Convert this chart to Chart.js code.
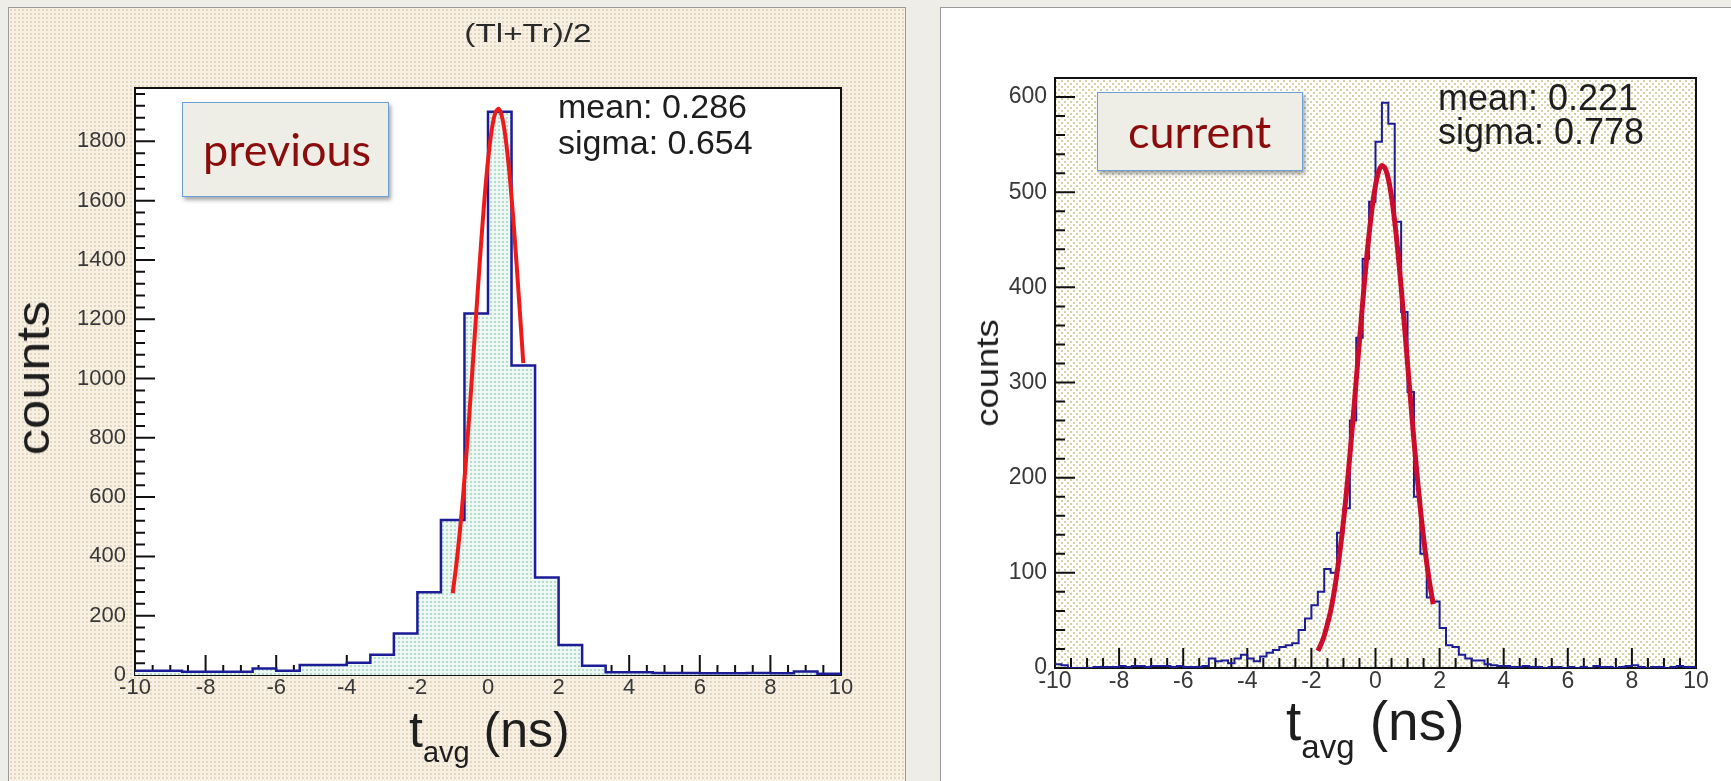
<!DOCTYPE html>
<html>
<head>
<meta charset="utf-8">
<script src="https://cdn.jsdelivr.net/npm/chart.js@4.4.0/dist/chart.umd.min.js"></script>
<style>
  html, body { margin: 0; padding: 0; }
  body { width: 1731px; height: 781px; position: relative; overflow: hidden; background: #efede7; font-family: "Liberation Sans", Arial, sans-serif; }
  .panel { position: absolute; box-sizing: border-box; }
  #panelL { left: 8px; top: 7px; width: 898px; height: 800px; border: 1px solid #9a9a9a;
            background-color: #f7f0e5;
            background-image: radial-gradient(circle, #e7d5bc 0.9px, transparent 1.4px);
            background-size: 4px 4px; }
  #panelR { left: 940px; top: 7px; width: 800px; height: 800px; border: 1px solid #9a9a9a; background: #fff; }
  canvas { position: absolute; }
  .txt { position: absolute; white-space: nowrap; line-height: 1; color: #1e1e1e; }
  .box { position: absolute; box-sizing: border-box; background: #efeee6; border: 1.5px solid #6aa0d8;
         box-shadow: 2px 3px 4px rgba(0,0,0,.35); }
  .tag { position: absolute; white-space: nowrap; line-height: 1; font-family: Lato, "Open Sans", sans-serif;
         font-size: 45px; color: #8a0c0c; }
</style>
</head>
<body>
<div class="panel" id="panelL"></div>
<div class="panel" id="panelR"></div>
<canvas id="chartL" width="895" height="773" style="left:9px;top:8px;width:895px;height:773px"></canvas>
<canvas id="chartR" width="790" height="773" style="left:941px;top:8px;width:790px;height:773px"></canvas>

<!-- panel izquierdo -->
<div class="txt" style="left:528px;top:20px;font-size:26px;color:#2a2a2a;transform:translateX(-50%) scaleX(1.28)">(Tl+Tr)/2</div>
<div class="txt" style="left:558px;top:89px;font-size:34px">mean: 0.286</div>
<div class="txt" style="left:558px;top:125px;font-size:34px">sigma: 0.654</div>
<div class="box" style="left:182px;top:102px;width:207px;height:95px"></div>
<div class="tag" style="left:203px;top:127px">previous</div>
<div class="txt" style="left:33px;top:378px;font-size:46px;transform:translate(-50%,-50%) rotate(-90deg) scaleX(1.14)">counts</div>
<div class="txt" style="left:409px;top:705px;font-size:50px">t<span style="font-size:29px;position:relative;top:15px">avg</span> (ns)</div>

<!-- panel derecho -->
<div class="txt" style="left:1438px;top:80px;font-size:36px">mean: 0.221</div>
<div class="txt" style="left:1438px;top:114px;font-size:36px">sigma: 0.778</div>
<div class="box" style="left:1097px;top:92px;width:206px;height:79px"></div>
<div class="tag" style="left:1128px;top:109px">current</div>
<div class="txt" style="left:987px;top:373px;font-size:32px;transform:translate(-50%,-50%) rotate(-90deg) scaleX(1.14)">counts</div>
<div class="txt" style="left:1286px;top:694px;font-size:55px">t<span style="font-size:33px;position:relative;top:18px">avg</span> (ns)</div>

<script>
// ---- datos: histograma "previous" (30 bins entre -10 y 10) ----
const rangoL  = [-10, 10];
const cuentasL = [14, 14, 11, 11, 11, 22, 14, 34, 34, 41,
                  68, 140, 279, 523, 1219, 1900, 1044, 329, 101, 31,
                  9, 9, 7, 7, 6, 6, 7, 6, 12, 4];
const ajusteXL = [-1.0, -0.9, -0.8, -0.7, -0.6, -0.5, -0.4, -0.3, -0.2, -0.1, 0.0,
                  0.1, 0.2, 0.3, 0.4, 0.5, 0.6, 0.7, 0.8, 0.9, 1.0];
const ajusteYL = [276, 369, 481, 613, 763, 928, 1102, 1278, 1449, 1605, 1736,
                  1834, 1894, 1910, 1881, 1810, 1702, 1563, 1402, 1229, 1052];

// ---- datos: histograma "current" (100 bins entre -10 y 10) ----
const rangoR  = [-10, 10];
const cuentasR = [4, 3, 0, 0, 0, 0, 1, 1, 1, 1,
                  2, 1, 2, 2, 1, 2, 2, 2, 1, 2,
                  1, 1, 1, 2, 10, 7, 8, 5, 10, 14,
                  10, 7, 12, 16, 19, 22, 24, 26, 40, 52,
                  66, 80, 104, 100, 142, 168, 260, 347, 430, 490,
                  553, 594, 572, 469, 374, 290, 180, 120, 74, 70,
                  42, 24, 22, 14, 10, 8, 8, 4, 3, 2,
                  2, 1, 1, 2, 1, 1, 0, 1, 1, 0,
                  1, 0, 1, 0, 2, 1, 1, 0, 1, 2,
                  3, 1, 0, 1, 1, 0, 1, 2, 1, 1];
const ajusteXR = [-1.8, -1.7, -1.6, -1.5, -1.4, -1.3, -1.2, -1.1, -1.0, -0.9, -0.8, -0.7, -0.6,
                  -0.5, -0.4, -0.3, -0.2, -0.1, 0.0, 0.1, 0.2, 0.3, 0.4, 0.5, 0.6, 0.7,
                  0.8, 0.9, 1.0, 1.1, 1.2, 1.3, 1.4, 1.5, 1.6, 1.7, 1.8];
const ajusteYR = [18, 25, 34, 46, 60, 78, 100, 125, 154, 187, 223, 262, 303,
                  344, 384, 422, 456, 485, 507, 522, 528, 525, 514, 495, 469, 437,
                  400, 361, 320, 279, 239, 202, 167, 137, 110, 87, 67];

// ---- ejes: etiquetas y marcas ----
const etiquetasX  = [-10, -8, -6, -4, -2, 0, 2, 4, 6, 8, 10];
const etiquetasYL = [0, 200, 400, 600, 800, 1000, 1200, 1400, 1600, 1800];
const etiquetasYR = [0, 100, 200, 300, 400, 500, 600];
const ejeX  = { min: -10, max: 10, major: 2, minor: 0.5 };
const ejeYL = { max: 1980, major: 200, minor: 40 };
const ejeYR = { max: 620, major: 100, minor: 20 };

function puntosHist(rango, cuentas) {
  const w = (rango[1] - rango[0]) / cuentas.length;
  const pts = cuentas.map((c, i) => ({ x: rango[0] + i * w, y: c }));
  pts.push({ x: rango[1], y: cuentas[cuentas.length - 1] });
  return pts;
}

function patronPuntos(size, bg, color, dots, r) {
  const c = document.createElement('canvas');
  c.width = size; c.height = size;
  const g = c.getContext('2d');
  if (bg) { g.fillStyle = bg; g.fillRect(0, 0, size, size); }
  g.fillStyle = color;
  dots.forEach(([dx, dy]) => g.fillRect(dx, dy, r, r));
  return g.createPattern(c, 'repeat');
}

// marco y ticks hacia adentro, estilo ROOT
const marcoRoot = {
  id: 'marcoRoot',
  beforeDatasetsDraw(chart, args, opts) {
    const { ctx, chartArea: a, scales: { x, y } } = chart;
    ctx.save();
    if (opts.fondo) {
      ctx.fillStyle = opts.fondo;
      ctx.fillRect(a.left, a.top, a.right - a.left, a.bottom - a.top);
    }
    ctx.strokeStyle = '#111';
    ctx.lineWidth = 2;
    ctx.strokeRect(a.left, a.top, a.right - a.left, a.bottom - a.top);
    ctx.beginPath();
    const nx = Math.round((x.max - x.min) / opts.xMinor);
    for (let i = 0; i <= nx; i++) {
      const v = x.min + i * opts.xMinor;
      const px = x.getPixelForValue(v);
      const mayor = Math.abs(v / opts.xMajor - Math.round(v / opts.xMajor)) < 1e-6;
      ctx.moveTo(px, a.bottom);
      ctx.lineTo(px, a.bottom - (mayor ? 20 : 10));
    }
    const ny = Math.floor(y.max / opts.yMinor);
    for (let i = 0; i <= ny; i++) {
      const v = i * opts.yMinor;
      const py = y.getPixelForValue(v);
      const mayor = v % opts.yMajor === 0;
      ctx.moveTo(a.left, py);
      ctx.lineTo(a.left + (mayor ? 20 : 10), py);
    }
    ctx.stroke();
    ctx.restore();
  }
};

function crearGrafica(id, cfg) {
  return new Chart(document.getElementById(id), {
    type: 'scatter',
    data: {
      datasets: [
        {
          // curva del ajuste, encima del histograma
          data: cfg.ajusteX.map((x, i) => ({ x, y: cfg.ajusteY[i] })),
          order: 0,
          showLine: true, tension: 0.3,
          borderColor: cfg.rojo, borderWidth: cfg.anchoAjuste,
          fill: false, pointRadius: 0
        },
        {
          data: puntosHist(cfg.rango, cfg.cuentas),
          order: 1,
          showLine: true, stepped: true,
          borderColor: '#1c1c96', borderWidth: cfg.anchoHist,
          backgroundColor: cfg.relleno || 'transparent',
          fill: cfg.relleno ? 'origin' : false,
          pointRadius: 0
        }
      ]
    },
    options: {
      responsive: false, animation: false, devicePixelRatio: 1,
      layout: { padding: cfg.padding },
      plugins: {
        legend: { display: false }, tooltip: { enabled: false },
        marcoRoot: { fondo: cfg.fondo, xMajor: ejeX.major, xMinor: ejeX.minor,
                     yMajor: cfg.ejeY.major, yMinor: cfg.ejeY.minor }
      },
      scales: {
        x: {
          type: 'linear', min: ejeX.min, max: ejeX.max,
          grid: { display: false, drawTicks: false }, border: { display: false },
          ticks: { autoSkip: false, maxRotation: 0,
                   padding: cfg.padX, color: '#383838',
                   font: { family: 'Liberation Sans', size: cfg.fuente },
                   callback: v => String(v) },
          afterBuildTicks: s => { s.ticks = etiquetasX.map(v => ({ value: v })); },
          afterFit: s => { s.height = 30; s.paddingLeft = 0; s.paddingRight = 0; }
        },
        y: {
          type: 'linear', min: 0, max: cfg.ejeY.max,
          grid: { display: false, drawTicks: false }, border: { display: false },
          ticks: { autoSkip: false,
                   padding: cfg.padY, color: '#383838',
                   font: { family: 'Liberation Sans', size: cfg.fuente },
                   callback: v => String(v) },
          afterBuildTicks: s => { s.ticks = cfg.etiquetasY.map(v => ({ value: v })); },
          afterFit: s => { s.width = 60; s.paddingTop = 0; s.paddingBottom = 0; }
        }
      }
    },
    plugins: [marcoRoot]
  });
}

crearGrafica('chartL', {
  rango: rangoL, cuentas: cuentasL, ajusteX: ajusteXL, ajusteY: ajusteYL,
  ejeY: ejeYL, etiquetasY: etiquetasYL, fondo: '#ffffff',
  relleno: patronPuntos(4, '#eef7f3', '#b3dccd', [[1, 1]], 2),
  rojo: '#ee1a1a', anchoHist: 2.5, anchoAjuste: 4,
  padding: { left: 66, right: 63, top: 80, bottom: 76 },
  padX: 0, padY: 9, fuente: 22
});

crearGrafica('chartR', {
  rango: rangoR, cuentas: cuentasR, ajusteX: ajusteXR, ajusteY: ajusteYR,
  ejeY: ejeYR, etiquetasY: etiquetasYR,
  fondo: patronPuntos(6, '#ffffff', '#d7d2a6', [[0, 0], [3, 3]], 2),
  relleno: null,
  rojo: '#cc0c2c', anchoHist: 2, anchoAjuste: 5,
  padding: { left: 54, right: 35, top: 70, bottom: 83 },
  padX: 0, padY: 8, fuente: 23
});
</script>
</body>
</html>
